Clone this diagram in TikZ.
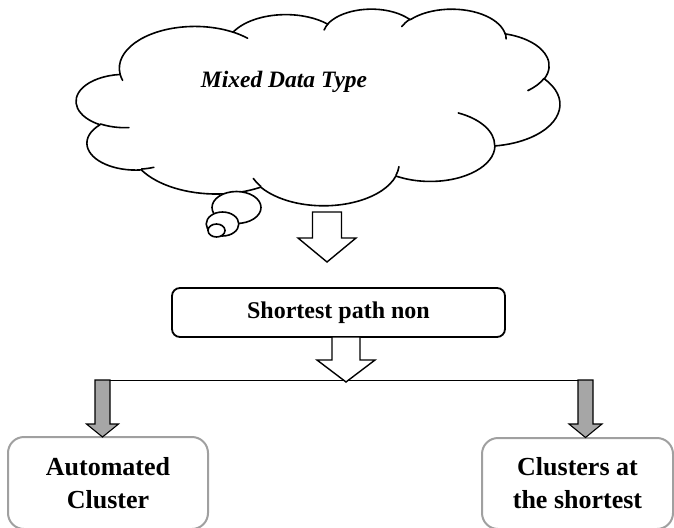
\documentclass[tikz,border=0pt]{standalone}
\usepackage{fontspec}
\setmainfont{Liberation Serif}
\definecolor{boxgray}{RGB}{160,160,160}
\definecolor{arrowgray}{RGB}{166,166,166}
\tikzset{
  % elliptical arc given by radii, start direction and sweep (directions as seen from the centre)
  oarc/.style n args={4}{
    start angle={atan2((#1)*sin(#3),(#2)*cos(#3))},
    delta angle={mod(atan2((#1)*sin((#3)+(#4)),(#2)*cos((#3)+(#4)))-atan2((#1)*sin(#3),(#2)*cos(#3))+720,360)},
    x radius=#1, y radius=#2},
  cloudline/.style={line width=1.6pt, line join=round, line cap=round},
  whitearrow/.style={draw, line width=1.4pt, fill=white},
  grayarrow/.style={draw, line width=1.1pt, fill=arrowgray},
  stagebox/.style={draw, line width=1.8pt, rounded corners=8pt, inner sep=0pt,
    font=\fontsize{24}{28}\selectfont\bfseries},
  resultbox/.style={draw=boxgray, line width=2pt, rounded corners=16pt, inner sep=0pt,
    align=center, font=\fontsize{26}{33}\selectfont\bfseries},
  cloudtext/.style={inner sep=0pt, font=\fontsize{23.5}{28}\selectfont\bfseries\itshape},
}
% downward block arrow: style, centre x, top y, head base y, tip y, half shaft, half head
\newcommand\blockdown[7]{%
  \draw[#1] ({#2-#6},#3) -- ({#2+#6},#3) -- ({#2+#6},#4) -- ({#2+#7},#4)
    -- (#2,#5) -- ({#2-#7},#4) -- ({#2-#6},#4) -- cycle;}
\begin{document}
\begin{tikzpicture}[x=1pt, y=-1pt]
\useasboundingbox (0,0) rectangle (674,527);

% thought cloud
\begin{scope}[shift={(76.4,8.5)}, x=0.1119pt, y=-0.0455pt]
  \draw[cloudline] (390,1437)
    arc[oarc={675.3}{919}{-190.4875}{123.7805}]
    arc[oarc={533.3}{726.7}{-144.1024}{89.9452}]
    arc[oarc={436.5}{594.5}{-145.8079}{99.7230}]
    arc[oarc={485.7}{659.5}{-130.9861}{117.2417}]
    arc[oarc={533.3}{727.3}{-78.7089}{109.0269}]
    arc[oarc={677.5}{922}{-46.2673}{130.2690}]
    arc[oarc={578.5}{786.7}{0.6250}{114.0333}]
    arc[oarc={675.2}{921.5}{22.4516}{115.1726}]
    arc[oarc={772}{1054.3}{66.2426}{75.7110}]
    arc[oarc={436}{591.8}{-274.9421}{146.7356}]
    arc[oarc={434.5}{594.5}{-246.8285}{152.5189}]
    -- cycle;
  % inner strokes where the puffs overlap
  \draw[cloudline] (469.3,2617.7) arc[oarc={434.5}{594.5}{86.742}{26.4295}];
  \draw[cloudline] (692.8,3489.9) arc[oarc={436}{591.8}{73.6105}{11.4475}];
  \draw[cloudline] (1647.8,3909) arc[oarc={675.2}{921.5}{137.6242}{14.0811}];
  \draw[cloudline] (2882.7,3475.1) arc[oarc={675.2}{921.5}{6.4533}{15.9984}];
  \draw[cloudline] (3412.9,2295.4) arc[oarc={578.5}{786.7}{-70.2924}{70.9174}];
  \draw[cloudline] (4179.8,1535.4) arc[oarc={533.3}{727.3}{30.3180}{27.7515}];
  \draw[cloudline] (3832.4,542.6) arc[oarc={485.7}{659.5}{-13.7443}{14.8589}];
  \draw[cloudline] (2907.8,395.2) arc[oarc={485.7}{659.5}{-149.1815}{18.1954}];
  \draw[cloudline] (2214.1,472) arc[oarc={436.5}{594.5}{-163.4943}{17.6864}];
  \draw[cloudline] (1400,519.2) arc[oarc={675.3}{919}{-66.7070}{12.3194}];
  \draw[cloudline] (412.7,1578.9) arc[oarc={675.3}{919}{157.6544}{11.8582}];
\end{scope}
% trailing bubbles
\draw[cloudline, fill=white] (236.5,207.5) ellipse [x radius=24.5, y radius=16];
\draw[cloudline, fill=white] (222.5,224) ellipse [x radius=16.3, y radius=12];
\draw[cloudline, fill=white] (216.5,230.5) ellipse [x radius=8.5, y radius=6.5];

\node[cloudtext] (mdt) at (284,81.5) {Mixed Data Type};

% process box and results
\node[stagebox, minimum width=333pt, minimum height=49pt] (sp) at (338.5,312.5) {Shortest path non};
\node[resultbox, minimum width=200pt, minimum height=92pt] (autoc) at (108,483) {Automated\\Cluster};
\node[resultbox, minimum width=191pt, minimum height=91pt] (clshort) at (577.5,483.5) {Clusters at\\the shortest};

% arrows
\blockdown{whitearrow}{327}{212}{238}{262}{14.5}{29}
\coordinate (splitL) at (110,380);
\coordinate (splitR) at (578,380);
\draw[line width=0.9pt] (splitL) -- (splitR);
\blockdown{whitearrow}{346}{337}{360}{382}{14}{29}
\blockdown{grayarrow}{102.5}{380}{424}{437}{7.5}{16}
\blockdown{grayarrow}{585.5}{380}{424}{437.5}{7.5}{16.5}
\end{tikzpicture}
\end{document}
